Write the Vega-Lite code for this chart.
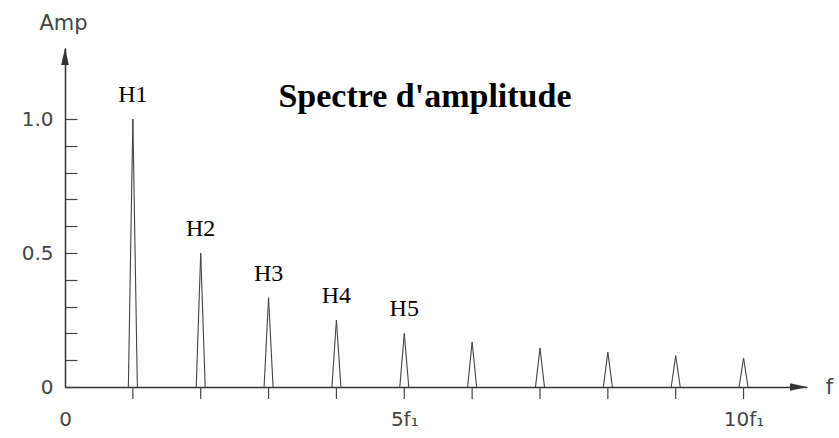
{
  "$schema": "https://vega.github.io/schema/vega-lite/v6.json",
  "width": 742,
  "height": 339,
  "autosize": {"type": "none"},
  "padding": {"left": 65, "top": 48, "right": 32, "bottom": 51},
  "background": "white",
  "config": {"view": {"stroke": null}},
  "data": {
    "values": [
      {"n": 1, "amp": 1.0, "label": "H1"},
      {"n": 2, "amp": 0.5, "label": "H2"},
      {"n": 3, "amp": 0.333, "label": "H3"},
      {"n": 4, "amp": 0.25, "label": "H4"},
      {"n": 5, "amp": 0.2, "label": "H5"},
      {"n": 6, "amp": 0.168, "label": ""},
      {"n": 7, "amp": 0.145, "label": ""},
      {"n": 8, "amp": 0.13, "label": ""},
      {"n": 9, "amp": 0.117, "label": ""},
      {"n": 10, "amp": 0.108, "label": ""}
    ]
  },
  "layer": [
    {
      "mark": {"type": "rule", "x2Offset": -4.5, "color": "#444", "strokeWidth": 1.1},
      "encoding": {
        "x": {
          "field": "n", "type": "quantitative",
          "scale": {"domain": [0, 10.935], "nice": false, "zero": true},
          "axis": {
            "values": [0, 5, 10],
            "tickCount": 20,
            "labelExpr": "datum.value == 0 ? '0' : datum.value == 5 ? '5f\u2081' : '10f\u2081'",
            "ticks": false,
            "grid": false,
            "domainColor": "#333",
            "domainWidth": 1.5,
            "labelFont": "DejaVu Sans",
            "labelFontSize": 20,
            "labelColor": "#444",
            "labelPadding": 22,
            "labelFlush": false,
            "labelOverlap": false,
            "title": "f",
            "titleFont": "DejaVu Sans",
            "titleFontSize": 21,
            "titleFontWeight": "normal",
            "titleColor": "#444",
            "titleX": 764,
            "titleY": 0,
            "titleAlign": "center",
            "titleBaseline": "middle"
          }
        },
        "x2": {"field": "n"},
        "y": {
          "field": "amp", "type": "quantitative",
          "scale": {"domain": [0, 1.265], "nice": false, "zero": true},
          "axis": {
            "values": [0, 0.1, 0.2, 0.3, 0.4, 0.5, 0.6, 0.7, 0.8, 0.9, 1.0],
            "tickCount": 30,
            "labelExpr": "datum.value == 1 ? '1.0' : datum.value == 0.5 ? '0.5' : datum.value == 0 ? '0' : ''",
            "tickSize": -12,
            "tickColor": "#444",
            "tickWidth": 1.2,
            "labelPadding": 24,
            "grid": false,
            "domainColor": "#333",
            "domainWidth": 1.5,
            "labelFont": "DejaVu Sans",
            "labelFontSize": 20,
            "labelColor": "#444",
            "labelOverlap": false,
            "labelFlush": false,
            "title": "Amp",
            "titleFont": "DejaVu Sans",
            "titleFontSize": 21,
            "titleFontWeight": "normal",
            "titleColor": "#444",
            "titleAngle": 0,
            "titleX": -2,
            "titleY": -25,
            "titleAlign": "center",
            "titleBaseline": "middle"
          }
        },
        "y2": {"datum": 0}
      }
    },
    {
      "mark": {"type": "rule", "x2Offset": 4.5, "color": "#444", "strokeWidth": 1.1},
      "encoding": {
        "x": {"field": "n", "type": "quantitative"},
        "x2": {"field": "n"},
        "y": {"field": "amp", "type": "quantitative"},
        "y2": {"datum": 0}
      }
    },
    {
      "mark": {"type": "rule", "y2Offset": 12, "color": "#444", "strokeWidth": 1.2},
      "encoding": {
        "x": {"field": "n", "type": "quantitative"},
        "y": {"datum": 0, "type": "quantitative"},
        "y2": {"datum": 0}
      }
    },
    {
      "mark": {"type": "text", "dy": -17, "baseline": "alphabetic", "align": "center", "font": "Liberation Serif", "fontSize": 24, "color": "black"},
      "encoding": {
        "x": {"field": "n", "type": "quantitative"},
        "y": {"field": "amp", "type": "quantitative"},
        "text": {"field": "label"}
      }
    },
    {
      "data": {"values": [{"title": "Spectre d'amplitude"}]},
      "mark": {"type": "text", "baseline": "alphabetic", "align": "center", "font": "Liberation Serif", "fontSize": 34, "fontWeight": "bold", "color": "black"},
      "encoding": {
        "x": {"datum": 5.305, "type": "quantitative"},
        "y": {"datum": 1.045, "type": "quantitative"},
        "text": {"field": "title"}
      }
    },
    {
      "data": {"values": [{"axis": "y"}]},
      "mark": {"type": "point", "shape": "M0,-1L0.45,1L-0.45,1Z", "filled": true, "size": 289, "color": "#333", "opacity": 1},
      "encoding": {
        "x": {"datum": 0, "type": "quantitative"},
        "y": {"datum": 1.233, "type": "quantitative"}
      }
    },
    {
      "data": {"values": [{"axis": "x"}]},
      "mark": {"type": "point", "shape": "M1,0L-1,-0.45L-1,0.45Z", "filled": true, "size": 289, "color": "#333", "opacity": 1},
      "encoding": {
        "x": {"datum": 10.81, "type": "quantitative"},
        "y": {"datum": 0, "type": "quantitative"}
      }
    }
  ]
}
